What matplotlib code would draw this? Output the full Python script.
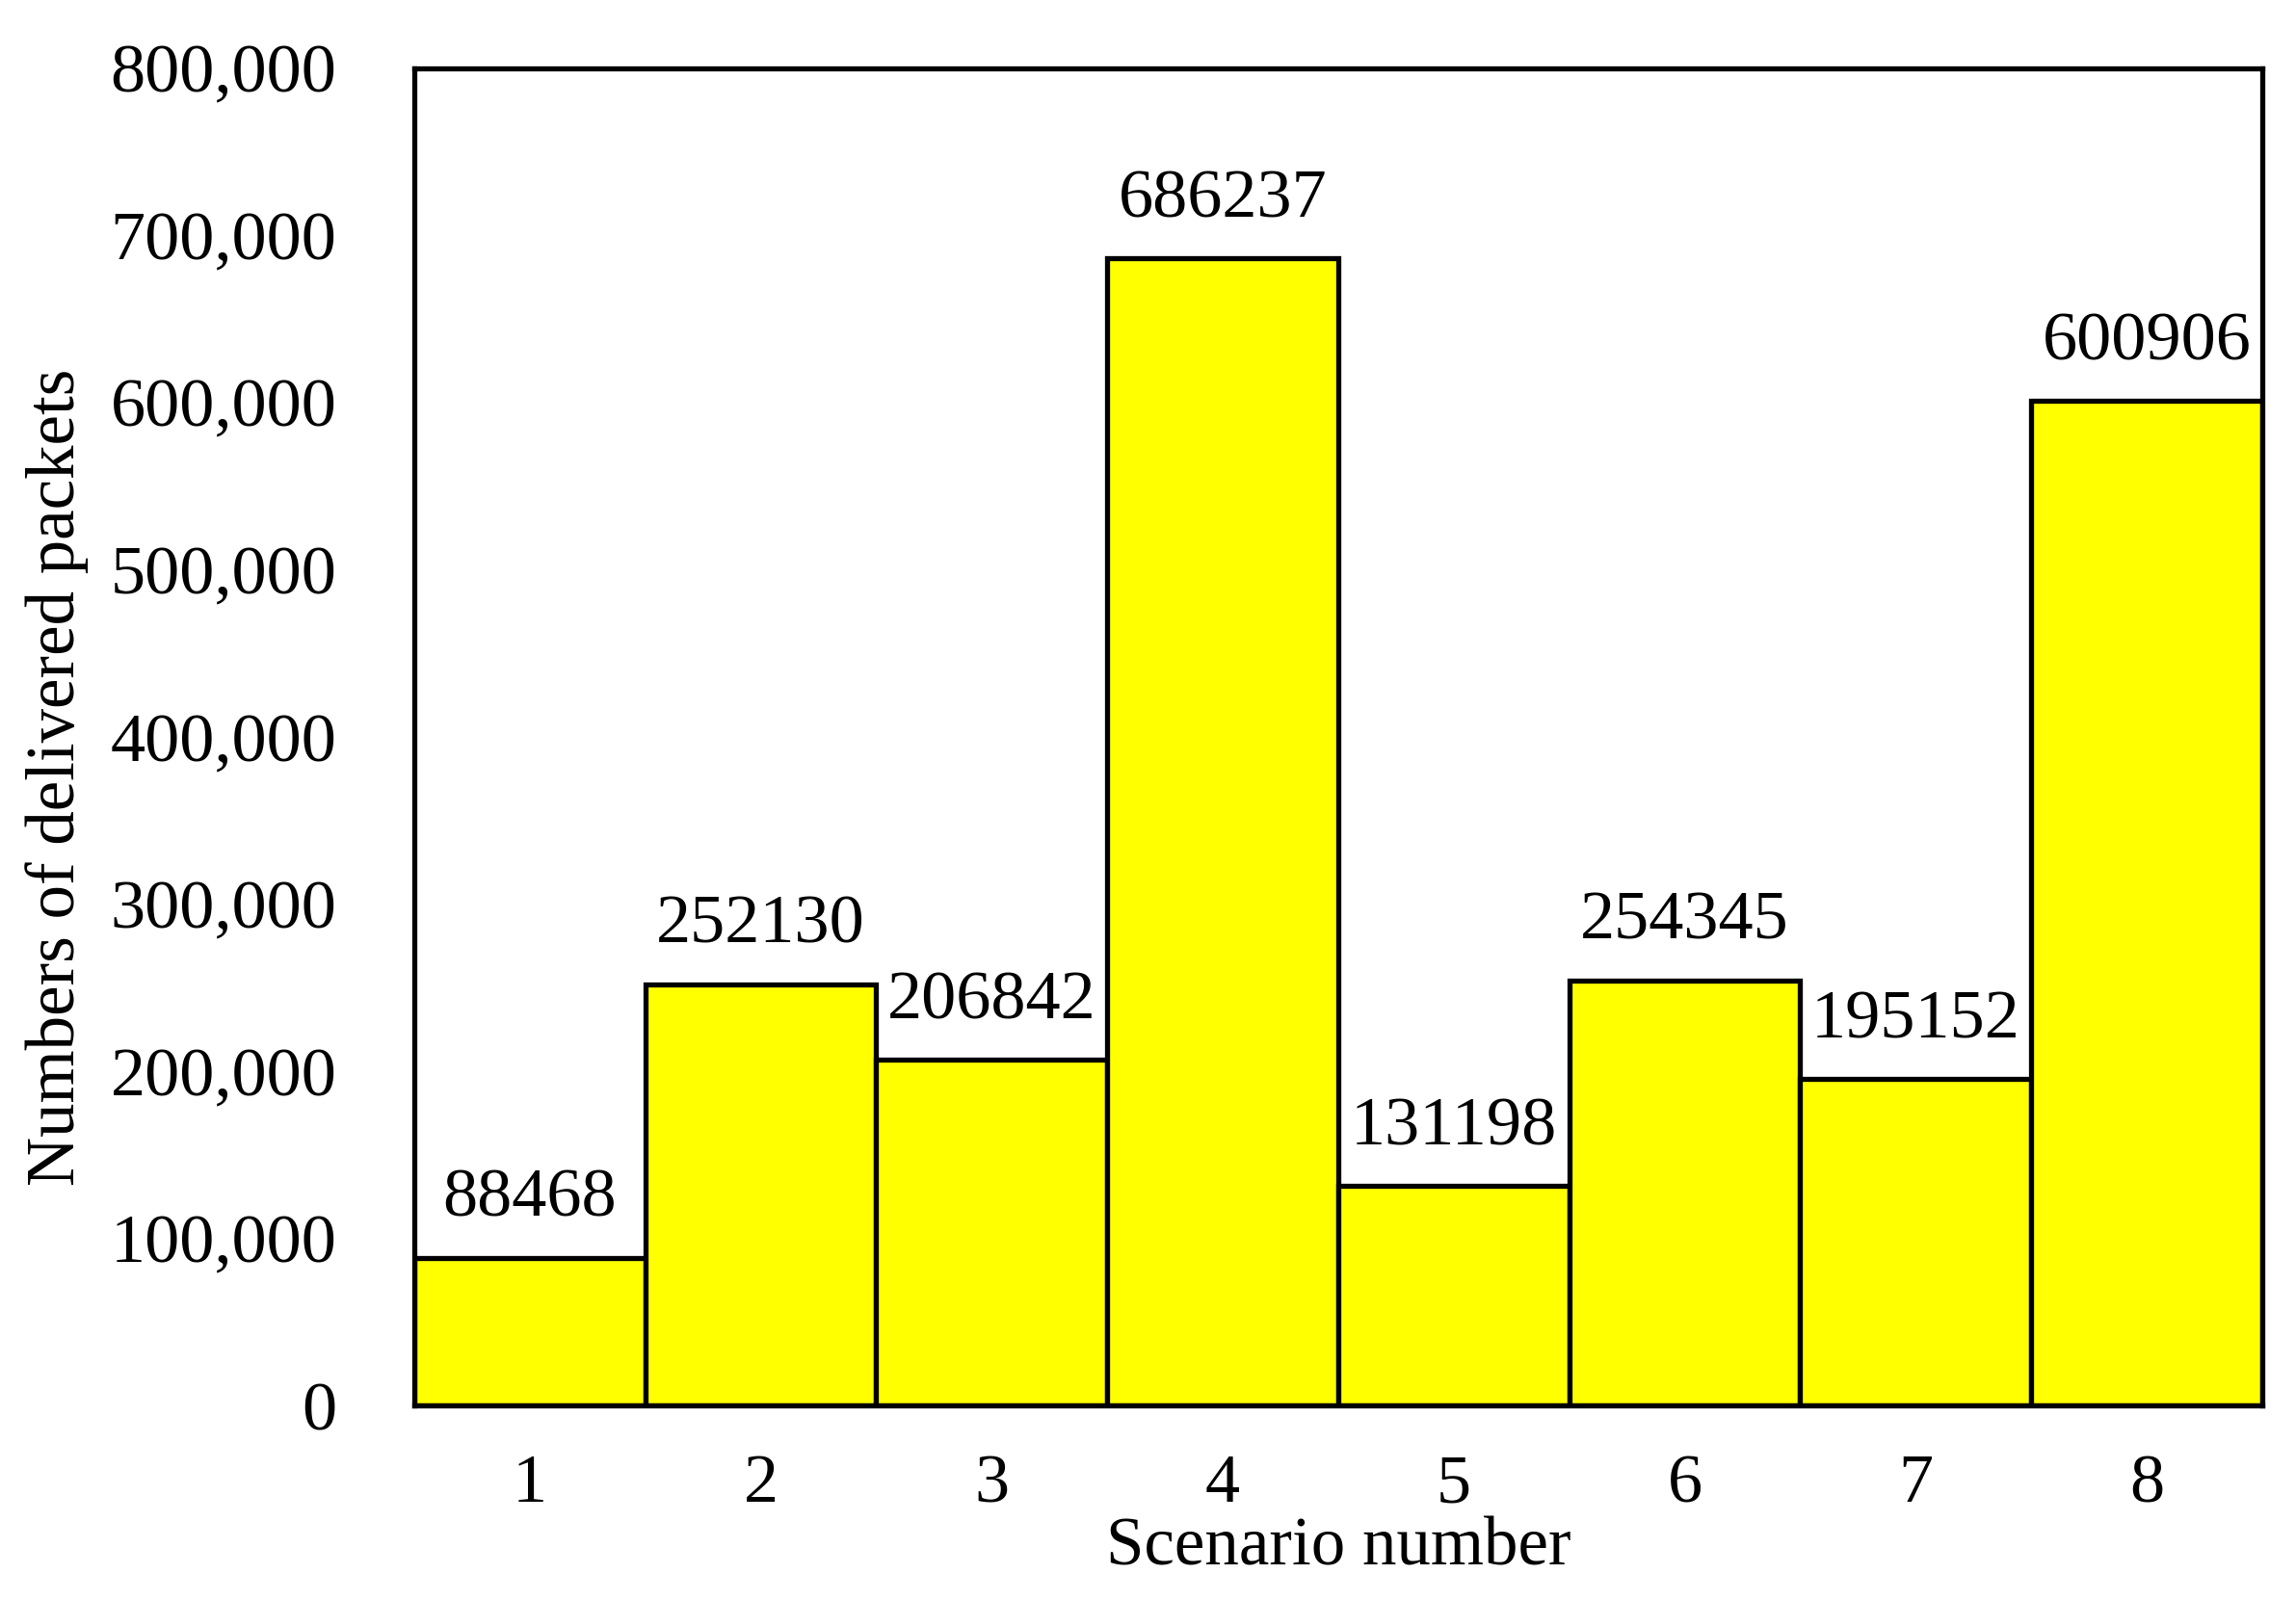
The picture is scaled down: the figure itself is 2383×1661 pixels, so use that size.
import matplotlib.pyplot as plt
from matplotlib.ticker import FuncFormatter

# Delivered packets per scenario
scenarios = [1, 2, 3, 4, 5, 6, 7, 8]
delivered = [88468, 252130, 206842, 686237, 131198, 254345, 195152, 600906]

plt.rcParams['font.family'] = ['Liberation Serif', 'DejaVu Serif']

fig = plt.figure(figsize=(23.83, 16.61), dpi=100)
ax = fig.add_axes([0.1804, 0.1216, 0.8049, 0.8357])

ax.bar(scenarios, delivered, width=1.0, color='#ffff00', edgecolor='black', linewidth=3.8)

# Value labels above bars
for x, v in zip(scenarios, delivered):
    ax.annotate(str(v), (x, v), xytext=(0, 20), textcoords='offset points',
                ha='center', va='bottom', fontsize=52)

ax.set_xlim(0.5, 8.5)
ax.set_ylim(0, 800000)
ax.set_yticks(range(0, 800001, 100000))
ax.yaxis.set_major_formatter(FuncFormatter(lambda v, p: f'{int(v):,}'))
ax.set_xticks(scenarios)

ax.tick_params(axis='both', length=0, labelsize=52)
ax.tick_params(axis='y', pad=58)
ax.tick_params(axis='x', pad=36)

for s in ax.spines.values():
    s.set_linewidth(3.8)

ax.set_xlabel('Scenario number', fontsize=51, labelpad=0)
ax.set_ylabel('Numbers of delivered packets', fontsize=51)
ax.yaxis.set_label_coords(-0.176, 0.47)

fig.savefig('out.png', dpi=100)
